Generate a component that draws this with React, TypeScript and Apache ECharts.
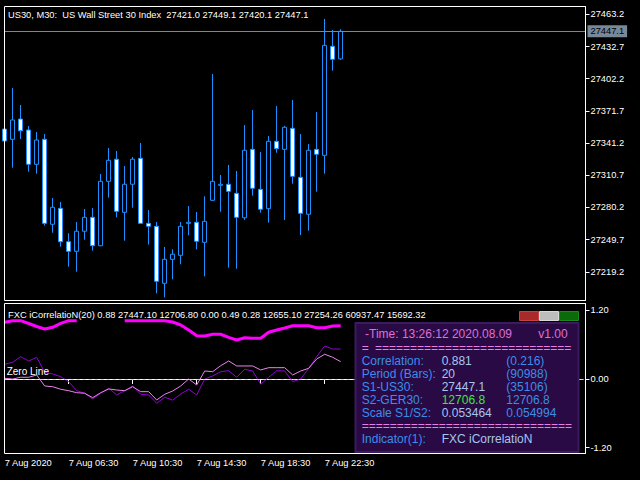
import React, { useEffect, useRef } from 'react';
import * as echarts from 'echarts';

// ---- Candles (US30, M30) ----
const opens = [27354.5, 27344.8, 27364.0, 27353.6, 27321.1, 27344.8, 27264.3, 27279.4, 27247.8, 27238.7, 27257.7, 27270.9, 27244.0, 27305.0, 27325.9, 27275.6, 27302.2, 27326.8, 27265.2, 27262.4, 27208.4, 27231.1, 27234.9, 27265.2, 27266.2, 27247.2, 27287.0, 27301.2, 27302.2, 27293.6, 27270.5, 27335.3, 27297.4, 27279.1, 27342.9, 27335.3, 27355.2, 27308.8, 27273.8, 27335.3, 27329.6, 27432.9, 27421.0];
const closes = [27343.2, 27363.1, 27352.9, 27321.1, 27344.1, 27265.2, 27280.4, 27247.8, 27238.7, 27257.7, 27270.9, 27244.0, 27305.0, 27324.9, 27276.6, 27302.2, 27325.9, 27265.2, 27262.4, 27210.3, 27231.1, 27235.9, 27262.4, 27266.2, 27248.2, 27267.1, 27305.0, 27302.2, 27295.5, 27270.9, 27334.4, 27298.4, 27278.5, 27342.9, 27335.9, 27356.2, 27309.7, 27274.7, 27334.4, 27330.6, 27433.8, 27420.6, 27447.1];
const lows = [27338.0, 27317.9, 27345.1, 27314.1, 27312.2, 27263.0, 27256.3, 27243.1, 27224.1, 27219.4, 27249.7, 27239.3, 27243.5, 27289.5, 27270.9, 27248.7, 27280.0, 27264.8, 27245.0, 27198.9, 27195.1, 27212.2, 27226.4, 27253.9, 27240.6, 27215.0, 27286.5, 27276.2, 27223.2, 27222.2, 27268.4, 27291.4, 27275.3, 27265.8, 27332.1, 27268.4, 27302.7, 27254.1, 27258.2, 27295.2, 27312.2, 27409.8, 27420.1];
const highs = [27360.0, 27393.4, 27377.3, 27357.4, 27351.7, 27349.8, 27289.2, 27285.4, 27255.8, 27266.5, 27278.8, 27279.7, 27311.9, 27336.6, 27333.7, 27319.5, 27328.0, 27341.3, 27277.8, 27266.5, 27242.8, 27240.6, 27266.5, 27281.6, 27275.9, 27290.8, 27406.7, 27311.0, 27320.5, 27314.8, 27358.3, 27372.6, 27332.8, 27347.9, 27376.3, 27357.6, 27382.0, 27349.8, 27340.3, 27370.7, 27458.8, 27448.3, 27449.1];

// ---- Indicator lines (FXC iCorrelatioN) ----
const corrLine = [0.993, 1.021, 1.021, 0.972, 0.919, 0.876, 0.905, 0.975, 1.021, 1.021, null, null, null, null, null, 1.021, 1.021, 1.021, 1.021, 1.021, 1.021, 0.998, 0.946, 0.858, 0.758, 0.753, 0.783, 0.783, 0.73, 0.683, 0.723, 0.713, 0.713, 0.818, 0.858, 0.893, 0.933, 0.933, 0.933, 0.898, 0.898, 0.928, 0.933];
const s1Line = [0.257, 0.292, 0.391, 0.315, 0.38, 0.117, 0.088, 0.04, -0.047, -0.205, -0.25, -0.35, -0.25, -0.163, -0.28, -0.205, -0.123, -0.268, -0.28, -0.426, -0.32, -0.37, -0.263, -0.18, -0.28, 0.0, 0.053, 0.128, 0.145, 0.03, 0.17, 0.14, -0.093, 0.03, 0.145, 0.14, -0.047, 0.0, 0.187, 0.391, 0.578, 0.525, 0.525];
const s2Line = [0.012, 0.0, 0.03, 0.03, 0.07, -0.123, -0.135, -0.18, -0.205, -0.24, -0.25, -0.327, -0.24, -0.175, -0.193, -0.205, -0.135, -0.222, -0.222, -0.368, -0.268, -0.21, -0.123, 0.0, -0.105, 0.14, 0.128, 0.233, 0.315, 0.228, 0.228, 0.228, 0.158, 0.198, 0.198, 0.198, 0.07, 0.14, 0.187, 0.35, 0.433, 0.38, 0.303];

// ---- Axes ----
const SLOTS = 73;
const timeLabels = ['7 Aug 2020', '7 Aug 06:30', '7 Aug 10:30', '7 Aug 14:30', '7 Aug 18:30', '7 Aug 22:30'];
const timeLabelStep = 8;
const priceTicks = [27219.2, 27249.7, 27280.2, 27310.7, 27341.2, 27371.7, 27402.2, 27432.7, 27463.2];
const indTicks = [-1.2, 0, 1.2];

// ---- Texts ----
const mainTitle = 'US30, M30:  US Wall Street 30 Index  27421.0 27449.1 27420.1 27447.1';
const indTitle = 'FXC iCorrelatioN(20) 0.88 27447.10 12706.80 0.00 0.49 0.28 12655.10 27254.26 60937.47 15692.32';
const infoHeader = '-Time: 13:26:12 2020.08.09';
const infoVersion = 'v1.00';
const infoLabels = ['Correlation:', 'Period (Bars):', 'S1-US30:', 'S2-GER30:', 'Scale S1/S2:'];
const infoValues = ['0.881', '20', '27447.1', '12706.8', '0.053464'];
const infoExtra = ['(0.216)', '(90988)', '(35106)', '12706.8', '0.054994'];
const infoIndLabel = 'Indicator(1):';
const infoIndName = 'FXC iCorrelatioN';

const FONT = "'Liberation Sans', Arial, sans-serif";
const AX_FS = 9.3;

const categories: string[] = [];
for (let i = 0; i < SLOTS; i++) {
  const k = i / timeLabelStep;
  categories.push(i % timeLabelStep === 0 && k < timeLabels.length ? timeLabels[k] : String(i));
}
const isTimeTick = (i: number) => i % timeLabelStep === 0 && i / timeLabelStep < timeLabels.length;

const lastClose = closes[closes.length - 1];

function buildOption() {
  const candleData = opens.map((o, i) => [o, closes[i], lows[i], highs[i]]);
  const infoRowsY = [360.7, 373.7, 386.7, 399.7, 412.7];
  const txt = (x: number, y: number, text: string, fill: string, fs = 12) => ({
    type: 'text', x, y, z: 110, silent: true,
    style: { text, fill, fontSize: fs, fontFamily: FONT, verticalAlign: 'middle', align: 'left' },
  });
  const graphics: any[] = [
    { type: 'rect', z: 50, silent: true, shape: { x: 4.5, y: 6.5, width: 581, height: 294 }, style: { fill: 'none', stroke: '#ffffff', lineWidth: 1 } },
    { type: 'rect', z: 50, silent: true, shape: { x: 4.5, y: 303.5, width: 581, height: 150 }, style: { fill: 'none', stroke: '#ffffff', lineWidth: 1 } },
    { type: 'text', x: 8, y: 15, z: 60, silent: true, style: { text: mainTitle, fill: '#fff', fontSize: AX_FS, fontFamily: FONT, verticalAlign: 'middle' } },
    { type: 'text', x: 8, y: 315, z: 60, silent: true, style: { text: indTitle, fill: '#fff', fontSize: AX_FS, fontFamily: FONT, verticalAlign: 'middle' } },
    // buttons
    { type: 'rect', z: 100, silent: true, shape: { x: 519.5, y: 311.5, width: 19, height: 9 }, style: { fill: '#a82a2a', stroke: '#c84040', lineWidth: 1 } },
    { type: 'rect', z: 100, silent: true, shape: { x: 539.5, y: 311.5, width: 19, height: 9 }, style: { fill: '#bdbdbd', stroke: '#d8d8d8', lineWidth: 1 } },
    { type: 'rect', z: 100, silent: true, shape: { x: 559.5, y: 311.5, width: 19, height: 9 }, style: { fill: '#0b6b0b', stroke: '#1a8a1a', lineWidth: 1 } },
    // info box
    { type: 'rect', z: 100, silent: true, shape: { x: 355.5, y: 323, width: 223, height: 129 }, style: { fill: '#290a44', stroke: '#3b1a5e', lineWidth: 2 } },
    txt(365, 334.3, infoHeader, '#de70d6'),
    txt(538.3, 334.3, infoVersion, '#de70d6'),
    txt(361.7, 347.7, '=', '#e77fe7'),
    txt(375, 347.7, '='.repeat(28), '#e77fe7'),
    txt(361.7, 425.7, '='.repeat(30), '#e77fe7'),
    txt(361.7, 438.7, infoIndLabel, '#3a8eea'),
    txt(441.7, 438.7, infoIndName, '#a6c6ee'),
  ];
  infoLabels.forEach((l, i) => {
    graphics.push(txt(361.7, infoRowsY[i], l, '#3a8eea'));
    graphics.push(txt(441.7, infoRowsY[i], infoValues[i], i === 3 ? '#3ce83c' : '#a6c6ee'));
    graphics.push(txt(506.3, infoRowsY[i], infoExtra[i], '#3a8eea'));
  });

  return {
    animation: false,
    backgroundColor: '#000000',
    grid: [
      { left: 4.7, top: 6.5, width: 576, height: 294, show: false },
      { left: 4.7, top: 303.5, width: 576, height: 150, show: false },
    ],
    xAxis: [
      {
        type: 'category', gridIndex: 0, data: categories, boundaryGap: false,
        axisLine: { show: false }, axisTick: { show: false }, axisLabel: { show: false }, splitLine: { show: false },
      },
      {
        type: 'category', gridIndex: 1, data: categories, boundaryGap: false,
        axisLine: { show: true, lineStyle: { color: '#ffffff', width: 1 } },
        axisTick: { show: true, length: 5, interval: (i: number) => isTimeTick(i), lineStyle: { color: '#ffffff' } },
        axisLabel: {
          interval: (i: number) => isTimeTick(i), align: 'left', color: '#ffffff',
          fontSize: AX_FS, fontFamily: FONT, margin: 5,
        },
        splitLine: { show: false },
      },
    ],
    yAxis: [
      {
        type: 'value', gridIndex: 0, position: 'right', offset: 4.8, min: 27192.1, max: 27470.6, scale: true,
        axisLine: { show: true, lineStyle: { color: '#ffffff', width: 1 } },
        axisTick: { show: true, length: 4, customValues: priceTicks, lineStyle: { color: '#ffffff' } },
        axisLabel: { customValues: priceTicks, formatter: (v: number) => v.toFixed(1), color: '#ffffff', fontSize: AX_FS, fontFamily: FONT, margin: 5 },
        splitLine: { show: false },
      },
      {
        type: 'value', gridIndex: 1, position: 'right', offset: 4.8, min: -1.305, max: 1.322,
        axisLine: { show: true, lineStyle: { color: '#ffffff', width: 1 } },
        axisTick: { show: true, length: 4, customValues: indTicks, lineStyle: { color: '#ffffff' } },
        axisLabel: { customValues: indTicks, formatter: (v: number) => v.toFixed(2), color: '#ffffff', fontSize: AX_FS, fontFamily: FONT, margin: 5 },
        splitLine: { show: false },
      },
    ],
    series: [
      {
        type: 'candlestick', xAxisIndex: 0, yAxisIndex: 0, data: candleData, barWidth: 4,
        itemStyle: { color: '#000000', color0: '#ffffff', borderColor: '#1e90ff', borderColor0: '#1e90ff', borderWidth: 1 },
        markLine: {
          silent: true, symbol: ['none', 'none'], animation: false,
          lineStyle: { color: '#778899', type: 'solid', width: 1 },
          label: {
            show: true, position: 'end', distance: 2, formatter: lastClose.toFixed(1),
            color: '#000000', backgroundColor: '#778899', padding: [2, 3, 1, 3], fontSize: AX_FS, fontFamily: FONT,
          },
          data: [[{ xAxis: 0, yAxis: lastClose }, { x: 585.5, yAxis: lastClose }]],
        },
      },
      {
        type: 'line', xAxisIndex: 1, yAxisIndex: 1, data: corrLine, symbol: 'none', connectNulls: false,
        lineStyle: { color: '#ff00ff', width: 3 },
        markLine: {
          silent: true, symbol: ['none', 'none'], animation: false,
          lineStyle: { color: '#d0d0d0', type: [3, 3], width: 1 },
          label: { show: true, position: 'insideStartTop', formatter: 'Zero Line', color: '#ffffff', fontSize: 10, fontFamily: FONT, distance: 2 },
          data: [[{ xAxis: 0, yAxis: 0 }, { x: 585.5, yAxis: 0 }]],
        },
      },
      {
        type: 'line', xAxisIndex: 1, yAxisIndex: 1, data: s1Line, symbol: 'none',
        lineStyle: { color: '#9400d3', width: 1 },
      },
      {
        type: 'line', xAxisIndex: 1, yAxisIndex: 1, data: s2Line, symbol: 'none',
        lineStyle: { color: '#ee82ee', width: 1 },
      },
    ],
    graphic: { elements: graphics },
  };
}

export default function App() {
  const ref = useRef<HTMLDivElement>(null);
  useEffect(() => {
    if (!ref.current) return;
    const chart = echarts.init(ref.current, null, { renderer: 'svg' });
    chart.setOption(buildOption() as any);
    return () => chart.dispose();
  }, []);
  return (
    <div
      ref={ref}
      style={{ position: 'fixed', left: 0, top: 0, width: 640, height: 480, background: '#000' }}
    />
  );
}
